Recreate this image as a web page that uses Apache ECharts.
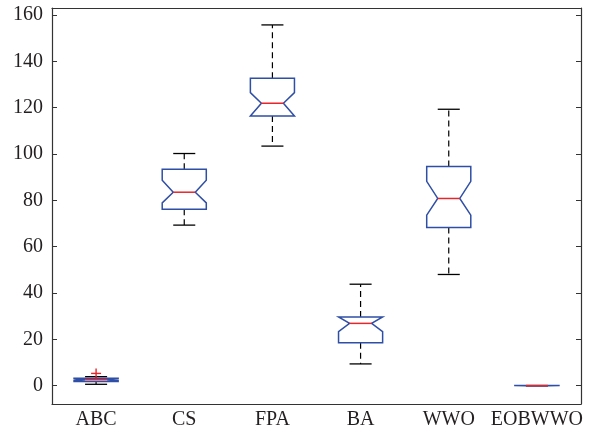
<!DOCTYPE html>
<html>
<head>
<meta charset="utf-8">
<script src="https://cdn.jsdelivr.net/npm/echarts@6/dist/echarts.min.js"></script>
<style>
html,body{margin:0;padding:0;background:#fff;}
#chart{width:589px;height:434px;}
</style>
</head>
<body>
<div id="chart"></div>
<script>
const categories = ['ABC', 'CS', 'FPA', 'BA', 'WWO', 'EOBWWO'];
const whiskerLow  = [0.6, 69.3, 103.4, 9.4, 48.0, 0];
const q1          = [1.8, 76.2, 116.4, 18.5, 68.3, 0];
const notchLow    = [2.2, 78.9, 116.4, 23.3, 73.6, 0];
const median      = [2.6, 83.5, 121.9, 26.9, 80.8, 0.02];
const notchHigh   = [3.0, 88.7, 126.5, 29.7, 88.2, 0.04];
const q3          = [3.2, 93.4, 132.7, 29.7, 94.6, 0.05];
const whiskerHigh = [3.9, 100.2, 155.7, 43.8, 119.3, 0.05];
const outliers    = [[0, 5.3]];
const yTicks      = [0, 20, 40, 60, 80, 100, 120, 140, 160];

const boxData = categories.map((c, i) => [i, whiskerLow[i], q1[i], notchLow[i], median[i], notchHigh[i], q3[i], whiskerHigh[i]]);

const BLUE = '#2f4fa6', RED = '#e8252b', AX = '#333333';
const font = {fontFamily: 'Liberation Serif', fontSize: 20, color: '#231f20'};

function renderBox(params, api) {
  const i = api.value(0);
  const band = api.size([1, 0])[0];
  const hw = band * 0.25, nw = band * 0.125;
  const x = api.coord([i, 0])[0];
  const y = v => api.coord([i, v])[1];
  const wlo = y(api.value(1)), b1 = y(api.value(2)), nlo = y(api.value(3)),
        md = y(api.value(4)), nhi = y(api.value(5)), b3 = y(api.value(6)), whi = y(api.value(7));
  const dash = {stroke: '#000', lineWidth: 1.2, lineDash: [6, 4]};
  const solid = {stroke: '#000', lineWidth: 1.3};
  return {
    type: 'group',
    children: [
      {type: 'line', shape: {x1: x, y1: b3, x2: x, y2: whi}, style: dash},
      {type: 'line', shape: {x1: x, y1: b1, x2: x, y2: wlo}, style: dash},
      {type: 'line', shape: {x1: x - nw, y1: whi, x2: x + nw, y2: whi}, style: solid},
      {type: 'line', shape: {x1: x - nw, y1: wlo, x2: x + nw, y2: wlo}, style: solid},
      {type: 'polygon', shape: {points: [
        [x - hw, b1], [x - hw, nlo], [x - nw, md], [x - hw, nhi], [x - hw, b3],
        [x + hw, b3], [x + hw, nhi], [x + nw, md], [x + hw, nlo], [x + hw, b1]
      ]}, style: {fill: null, stroke: BLUE, lineWidth: 1.5}},
      {type: 'line', shape: {x1: x - nw, y1: md, x2: x + nw, y2: md}, style: {stroke: RED, lineWidth: 1.5}}
    ]
  };
}

function renderOutlier(params, api) {
  const p = api.coord([api.value(0), api.value(1)]);
  const s = 5;
  const st = {stroke: RED, lineWidth: 1.4};
  return {type: 'group', children: [
    {type: 'line', shape: {x1: p[0] - s, y1: p[1], x2: p[0] + s, y2: p[1]}, style: st},
    {type: 'line', shape: {x1: p[0], y1: p[1] - s, x2: p[0], y2: p[1] + s}, style: st}
  ]};
}

const chart = echarts.init(document.getElementById('chart'));
chart.setOption({
  animation: false,
  backgroundColor: '#fff',
  grid: {left: 52, right: 8, top: 8, bottom: 30, containLabel: false},
  xAxis: [
    {type: 'category', data: categories, position: 'bottom',
     axisLine: {onZero: false, lineStyle: {color: AX, width: 1.2}},
     axisTick: {inside: true, length: 5, alignWithLabel: true, interval: 0, lineStyle: {color: AX}},
     axisLabel: Object.assign({margin: 6, interval: 0}, font), splitLine: {show: false}},
    {type: 'category', data: categories, position: 'top',
     axisLine: {onZero: false, lineStyle: {color: AX, width: 1.2}},
     axisTick: {inside: true, length: 5, alignWithLabel: true, interval: 0, lineStyle: {color: AX}},
     axisLabel: {show: false}, splitLine: {show: false}}
  ],
  yAxis: [
    {type: 'value', min: -7.9, max: 163, position: 'left',
     axisLine: {show: true, onZero: false, lineStyle: {color: AX, width: 1.2}},
     axisTick: {show: true, inside: true, length: 5, customValues: yTicks, lineStyle: {color: AX}},
     axisLabel: Object.assign({margin: 9, customValues: yTicks}, font),
     splitLine: {show: false}},
    {type: 'value', min: -7.9, max: 163, position: 'right',
     axisLine: {show: true, onZero: false, lineStyle: {color: AX, width: 1.2}},
     axisTick: {show: true, inside: true, length: 5, customValues: yTicks, lineStyle: {color: AX}},
     axisLabel: {show: false}, splitLine: {show: false}}
  ],
  series: [
    {type: 'custom', renderItem: renderBox, data: boxData, xAxisIndex: 0, yAxisIndex: 0,
     encode: {x: 0, y: [1, 2, 3, 4, 5, 6, 7]}, silent: true, clip: false},
    {type: 'custom', renderItem: renderOutlier, data: outliers, xAxisIndex: 0, yAxisIndex: 0,
     encode: {x: 0, y: 1}, silent: true}
  ]
});
</script>
</body>
</html>
